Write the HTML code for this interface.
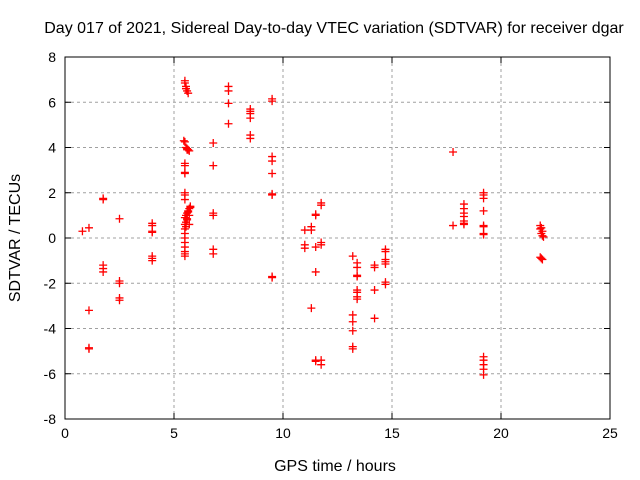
<!DOCTYPE html>
<html><head><meta charset="utf-8"><style>
body{margin:0;background:#fff}
svg{display:block;font-family:"Liberation Sans",sans-serif}
</style></head><body>
<svg id="chart" width="640" height="480">
<text x="334" y="33" font-size="16" text-anchor="middle">Day 017 of 2021, Sidereal Day-to-day VTEC variation (SDTVAR) for receiver dgar</text>
<text x="335" y="471" font-size="16" text-anchor="middle">GPS time / hours</text>
<text x="20" y="238" font-size="16" text-anchor="middle" transform="rotate(-90 20 238)">SDTVAR / TECUs</text>
<g id="grid"></g><g id="ticks"></g><g id="pts"></g>
<rect x="65" y="57" width="545" height="362" fill="none" stroke="#000" stroke-width="1"/>
</svg>
<script>
const xTicks=[0,5,10,15,20,25];
const yTicks=[-8,-6,-4,-2,0,2,4,6,8];
const hours=[0.8,1.1,1.1,1.1,1.1,1.75,1.75,1.75,1.75,1.75,2.5,2.5,2.5,2.5,2.5,4,4,4,4,4,4,4,
5.5,5.5,5.55,5.55,5.6,5.65,5.45,5.5,5.55,5.6,5.65,5.7,5.6,5.5,5.5,5.5,5.5,5.5,5.5,5.5,
5.75,5.7,5.65,5.6,5.55,5.5,5.6,5.55,5.5,5.55,5.5,5.5,5.5,5.5,5.5,5.5,5.5,5.5,5.7,5.6,5.65,5.7,5.75,
6.8,6.8,6.8,6.8,6.8,6.8,7.5,7.5,7.5,7.5,8.5,8.5,8.5,8.5,8.5,8.5,
9.5,9.5,9.5,9.5,9.5,9.5,9.5,9.5,9.5,11,11,11,11.3,11.3,11.3,11.5,11.5,11.5,11.5,11.5,11.5,
11.75,11.75,11.75,11.75,11.75,11.75,13.2,13.2,13.2,13.2,13.2,13.2,13.4,13.4,13.4,13.4,13.4,13.4,13.4,13.4,
14.2,14.2,14.2,14.2,14.7,14.7,14.7,14.7,14.7,14.7,14.7,17.8,17.8,18.3,18.3,18.3,18.3,18.3,18.3,18.3,
19.2,19.2,19.2,19.2,19.2,19.2,19.2,19.2,19.2,19.2,19.2,19.2,19.2,
21.8,21.85,21.8,21.9,21.85,21.9,21.95,21.8,21.85,21.9];
const sdtvar=[0.3,0.45,-3.2,-4.85,-4.9,1.75,1.7,-1.2,-1.35,-1.5,0.85,-1.9,-2.0,-2.65,-2.75,0.65,0.55,0.3,0.25,-0.8,-0.9,-1.0,
6.95,6.85,6.7,6.6,6.5,6.4,4.3,4.25,4.0,3.95,3.9,3.85,3.9,3.3,3.2,2.9,2.85,2.0,1.9,1.7,
1.4,1.3,1.2,1.1,1.0,0.9,0.8,0.7,0.6,0.5,0.4,0.2,0.0,-0.2,-0.4,-0.6,-0.8,-0.7,1.0,0.85,1.15,0.6,1.35,
4.2,3.2,1.1,1.0,-0.5,-0.7,6.7,6.5,5.95,5.05,5.7,5.6,5.5,5.3,4.55,4.4,
6.15,6.05,3.6,3.4,2.85,1.95,1.9,-1.7,-1.75,0.35,-0.3,-0.45,0.5,0.35,-3.1,1.05,1.0,-0.4,-1.5,-5.4,-5.45,
1.55,1.45,-0.2,-0.3,-5.4,-5.6,-0.8,-3.4,-3.7,-4.1,-4.8,-4.9,-1.1,-1.3,-1.65,-1.7,-2.3,-2.4,-2.6,-2.7,
-1.2,-1.3,-2.3,-3.55,-0.5,-0.6,-0.95,-1.05,-1.15,-1.95,-2.05,3.8,0.55,1.5,1.3,1.1,0.95,0.75,0.65,0.6,
2.0,1.9,1.75,1.2,0.55,0.5,0.2,0.15,-5.25,-5.4,-5.6,-5.8,-6.05,
0.55,0.45,0.4,0.3,0.2,0.1,0.05,-0.85,-0.9,-0.95];
const NS='http://www.w3.org/2000/svg';
const X0=65,X1=610,Y0=419,Y1=57;
const sx=v=>X0+(v-0)/(25-0)*(X1-X0);
const sy=v=>Y0-(v+8)/16*(Y0-Y1);
function mk(t,a,p){const e=document.createElementNS(NS,t);for(const k in a)e.setAttribute(k,a[k]);p.appendChild(e);return e;}
const grid=document.getElementById('grid'),ticks=document.getElementById('ticks'),pts=document.getElementById('pts');
xTicks.forEach(v=>{const x=sx(v);
 if(v>0&&v<25){const g=mk('line',{x1:x,x2:x,y1:Y1,y2:Y0,stroke:'#a0a0a0','stroke-dasharray':'3,3'},grid);
 
 }
 mk('line',{x1:x,x2:x,y1:Y0,y2:Y0-6,stroke:'#000'},ticks);mk('line',{x1:x,x2:x,y1:Y1,y2:Y1+6,stroke:'#000'},ticks);
 const t=mk('text',{x:x,y:Y0+19,'font-size':14,'text-anchor':'middle'},ticks);t.textContent=v;
 
 });
yTicks.forEach(v=>{const y=sy(v);
 if(v>-8&&v<8){const g=mk('line',{x1:X0,x2:X1,y1:y,y2:y,stroke:'#a0a0a0','stroke-dasharray':'3,3'},grid);
 
 }
 mk('line',{x1:X0,x2:X0+6,y1:y,y2:y,stroke:'#000'},ticks);mk('line',{x1:X1,x2:X1-6,y1:y,y2:y,stroke:'#000'},ticks);
 const t=mk('text',{x:X0-9,y:y+5,'font-size':14,'text-anchor':'end'},ticks);t.textContent=v;
 
 });
hours.forEach((h,i)=>{const x=sx(h),y=sy(sdtvar[i]);
 const p=mk('path',{d:`M${x-4},${y}H${x+4}M${x},${y-4}V${y+4}`,stroke:'#f00','stroke-width':1.3,fill:'none'},pts);
 
 });
</script>
</body></html>
